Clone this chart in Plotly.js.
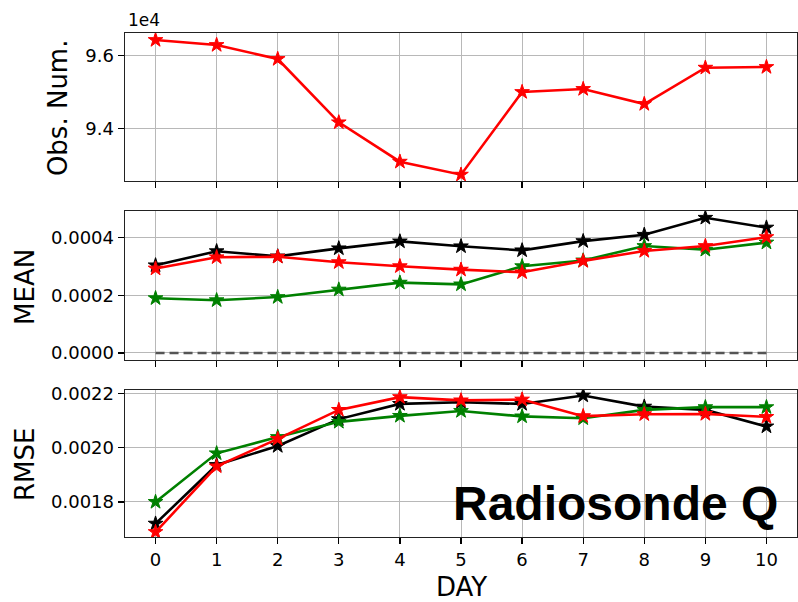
<!DOCTYPE html>
<html>
<head>
<meta charset="utf-8">
<script src="https://cdn.plot.ly/plotly-3.0.1.min.js"></script>
<style>html,body{margin:0;padding:0;background:#fff;}#chart{width:798px;height:602px;}</style>
</head>
<body>
<div id="chart"></div>
<script>
var days = [0, 1, 2, 3, 4, 5, 6, 7, 8, 9, 10];
var obsNum = [96420, 96283, 95900, 94164, 93087, 92731, 94995, 95078, 94667, 95662, 95680];
var meanBlack = [0.000304, 0.000353, 0.000335, 0.000363, 0.000387, 0.000370, 0.000356, 0.000388, 0.000410, 0.000469, 0.000435];
var meanGreen = [0.000190, 0.000183, 0.000194, 0.000220, 0.000244, 0.000238, 0.000301, 0.000321, 0.000371, 0.000358, 0.000383];
var meanRed   = [0.000293, 0.000332, 0.000334, 0.000315, 0.000301, 0.000289, 0.000280, 0.000319, 0.000354, 0.000371, 0.000402];
var zeroLine  = [0, 0, 0, 0, 0, 0, 0, 0, 0, 0, 0];
var rmseBlack = [0.001720, 0.001936, 0.002006, 0.002105, 0.002161, 0.002167, 0.002161, 0.002192, 0.002151, 0.002139, 0.002078];
var rmseGreen = [0.001800, 0.001979, 0.002039, 0.002095, 0.002117, 0.002135, 0.002115, 0.002108, 0.002139, 0.002149, 0.002149];
var rmseRed   = [0.001689, 0.001931, 0.002032, 0.002139, 0.002186, 0.002174, 0.002177, 0.002116, 0.002123, 0.002124, 0.002113];
var obsTickVals = [94000, 96000];
var obsTickText = ['9.4', '9.6'];
var meanTickVals = [0, 0.0002, 0.0004];
var rmseTickVals = [0.0018, 0.0020, 0.0022];
var xTickVals = days;

function series(x, y, color, xa, ya) {
  return {
    x: x, y: y, xaxis: xa, yaxis: ya, type: 'scatter', mode: 'lines+markers',
    line: {color: color, width: 2.6},
    marker: {symbol: 'star', size: 11, color: color, line: {color: color, width: 1}},
    hoverinfo: 'skip', showlegend: false
  };
}

var traces = [
  series(days, obsNum, '#ff0000', 'x', 'y'),
  {x: days, y: zeroLine, xaxis: 'x2', yaxis: 'y2', type: 'scatter', mode: 'lines',
   line: {color: '#555555', width: 2.6, dash: '9px,5px'}, hoverinfo: 'skip', showlegend: false},
  series(days, meanBlack, '#000000', 'x2', 'y2'),
  series(days, meanGreen, '#008000', 'x2', 'y2'),
  series(days, meanRed, '#ff0000', 'x2', 'y2'),
  series(days, rmseBlack, '#000000', 'x3', 'y3'),
  series(days, rmseGreen, '#008000', 'x3', 'y3'),
  series(days, rmseRed, '#ff0000', 'x3', 'y3')
];

var tickFont = {family: 'DejaVu Sans', size: 18, color: '#000'};

function xAxis(anchor, showLabels) {
  return {
    anchor: anchor, domain: [0, 1], range: [-0.5, 10.5],
    tickvals: xTickVals, ticktext: xTickVals.map(String),
    showticklabels: showLabels, ticks: 'outside', ticklen: 6, tickwidth: 1.3, tickcolor: '#000',
    showline: true, mirror: true, linecolor: '#222', linewidth: 1.4,
    showgrid: true, gridcolor: '#b8b8b8', gridwidth: 1, zeroline: false,
    tickfont: tickFont
  };
}
function yAxis(anchor, domain, range, vals, extra) {
  var a = {
    anchor: anchor, domain: domain, range: range, tickvals: vals,
    ticks: 'outside', ticklen: 6, tickwidth: 1.3, tickcolor: '#000',
    showline: true, mirror: true, linecolor: '#222', linewidth: 1.4,
    showgrid: true, gridcolor: '#b8b8b8', gridwidth: 1, zeroline: false,
    tickfont: tickFont
  };
  for (var k in extra) a[k] = extra[k];
  return a;
}

var layout = {
  width: 798, height: 602,
  margin: {l: 125, r: 1, t: 33, b: 65},
  paper_bgcolor: '#fff', plot_bgcolor: '#fff',
  font: {family: 'DejaVu Sans', color: '#000'},
  xaxis: xAxis('y', false),
  xaxis2: xAxis('y2', false),
  xaxis3: xAxis('y3', true),
  yaxis: yAxis('x', [0.7063, 1], [92557, 96612], obsTickVals, {ticktext: obsTickText}),
  yaxis2: yAxis('x2', [0.3512, 0.6468], [-0.0000243, 0.0004925], meanTickVals, {tickformat: '.4f'}),
  yaxis3: yAxis('x3', [0, 0.2917], [0.0016708, 0.0022123], rmseTickVals, {tickformat: '.4f'}),
  annotations: [
    {text: 'Obs. Num.', xref: 'paper', yref: 'paper', x: -0.0997, y: 0.851, textangle: -90,
     xanchor: 'center', yanchor: 'middle', showarrow: false, font: {family: 'DejaVu Sans', size: 26, color: '#000'}},
    {text: 'MEAN', xref: 'paper', yref: 'paper', x: -0.1496, y: 0.497, textangle: -90,
     xanchor: 'center', yanchor: 'middle', showarrow: false, font: {family: 'DejaVu Sans', size: 26, color: '#000'}},
    {text: 'RMSE', xref: 'paper', yref: 'paper', x: -0.1496, y: 0.1438, textangle: -90,
     xanchor: 'center', yanchor: 'middle', showarrow: false, font: {family: 'DejaVu Sans', size: 26, color: '#000'}},
    {text: 'DAY', xref: 'paper', yref: 'paper', x: 0.5, y: -0.099,
     xanchor: 'center', yanchor: 'middle', showarrow: false, font: {family: 'DejaVu Sans', size: 26, color: '#000'}},
    {text: '1e4', xref: 'paper', yref: 'paper', x: 0.002, y: 1.002,
     xanchor: 'left', yanchor: 'bottom', showarrow: false, font: {family: 'DejaVu Sans', size: 17, color: '#000'}},
    {text: '<b>Radiosonde Q</b>', xref: 'paper', yref: 'paper', x: 0.9747, y: 0.01,
     xanchor: 'right', yanchor: 'bottom', showarrow: false, font: {family: 'Liberation Sans', size: 48, color: '#000'}}
  ]
};

Plotly.newPlot('chart', traces, layout, {staticPlot: true, displayModeBar: false});
</script>
</body>
</html>
